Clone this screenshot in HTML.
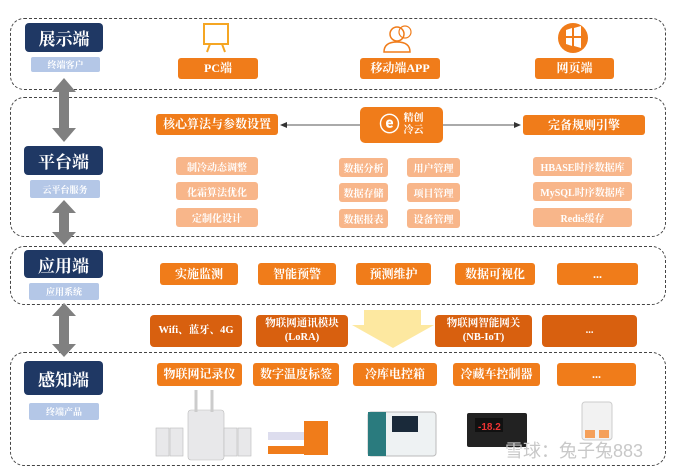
<!DOCTYPE html>
<html><head><meta charset="utf-8"><style>
*{margin:0;padding:0;box-sizing:border-box}
body{width:674px;height:470px;background:#fff;position:relative;overflow:hidden;font-family:"Liberation Serif","Noto Serif CJK SC","Noto Sans CJK SC",serif;font-weight:bold}
.a{position:absolute}
.g{position:absolute;border:1.5px dashed #444;border-radius:14px}
.n{position:absolute;background:#1f3864;color:#fff;border-radius:4px;font-size:17px;display:flex;align-items:center;justify-content:center}
.s{position:absolute;background:#b4c7e7;color:#fff;font-size:9px;display:flex;align-items:center;justify-content:center;border-radius:2px}
.o{position:absolute;background:#f07c1a;color:#fff;font-size:12px;display:flex;align-items:center;justify-content:center;border-radius:3px;text-align:center;line-height:1.2}
.l{position:absolute;background:#f8b68a;color:#fff;font-size:10px;display:flex;align-items:center;justify-content:center;border-radius:3px}
.d{position:absolute;background:#d8600f;color:#fff;font-size:10.5px;display:flex;align-items:center;justify-content:center;border-radius:4px;text-align:center;line-height:1.3}
</style></head><body>
<div class="g" style="left:10px;top:18px;width:656px;height:72px"></div>
<div class="g" style="left:10px;top:97px;width:656px;height:140px"></div>
<div class="g" style="left:10px;top:246px;width:656px;height:59px"></div>
<div class="g" style="left:10px;top:352px;width:656px;height:114px"></div>

<svg class="a" style="left:0;top:0" width="674" height="470">
<g fill="#808080">
<polygon points="64,78 76,92 69,92 69,128 76,128 64,142 52,128 59,128 59,92 52,92"/>
<polygon points="64,200 76,213 69,213 69,232 76,232 64,245 52,232 59,232 59,213 52,213"/>
<polygon points="64,303 76,316 69,316 69,344 76,344 64,357 52,344 59,344 59,316 52,316"/>
</g>
<line x1="285" y1="125" x2="360" y2="125" stroke="#555" stroke-width="1"/>
<polygon points="280,125 287,122 287,128" fill="#333"/>
<line x1="443" y1="125" x2="516" y2="125" stroke="#555" stroke-width="1"/>
<polygon points="521,125 514,122 514,128" fill="#333"/>
<polygon points="364,310 421,310 421,325 434,325 393,348 352,325 364,325" fill="#fde8a0"/>
<rect x="204" y="24" width="24" height="20" fill="none" stroke="#f5a623" stroke-width="2"/>
<line x1="210" y1="44" x2="207" y2="52" stroke="#f5a623" stroke-width="2"/><line x1="222" y1="44" x2="225" y2="52" stroke="#f5a623" stroke-width="2"/>
<circle cx="397" cy="34" r="7" fill="none" stroke="#f07c1a" stroke-width="1.5"/>
<path d="M384 52 q0-10 13-10 q13 0 13 10z" fill="none" stroke="#f07c1a" stroke-width="1.5"/>
<circle cx="405" cy="32" r="6" fill="none" stroke="#f07c1a" stroke-width="1.2"/>
<circle cx="573" cy="38" r="15" fill="#f07c1a"/>
<path d="M566 30 l6 -2 v8 h-6z M574 28 l7 -2 v10 h-7z M566 38 h6 v8 l-6 -2z M574 38 h7 v10 l-7 -2z" fill="#fff"/>
<g fill="#e8e8ea" stroke="#bbb" stroke-width="0.6">
<rect x="156" y="428" width="13" height="28"/><rect x="170" y="428" width="13" height="28"/>
<rect x="188" y="410" width="36" height="50" rx="3"/>
<rect x="224" y="428" width="13" height="28"/><rect x="238" y="428" width="13" height="28"/>
</g>
<line x1="196" y1="390" x2="196" y2="412" stroke="#ccc" stroke-width="3"/><line x1="212" y1="390" x2="212" y2="412" stroke="#ccc" stroke-width="3"/>
<rect x="268" y="432" width="36" height="8" fill="#dde"/><rect x="268" y="446" width="36" height="8" fill="#f07c1a"/>
<rect x="304" y="421" width="24" height="34" fill="#f07c1a"/>
<rect x="368" y="412" width="68" height="44" rx="3" fill="#eef2f3" stroke="#bbb"/>
<rect x="368" y="412" width="18" height="44" fill="#2a7b7e"/>
<rect x="392" y="416" width="26" height="16" fill="#1a2a3a"/>
<rect x="467" y="413" width="60" height="34" rx="2" fill="#222"/>
<rect x="475" y="418" width="28" height="14" fill="#111"/>
<text x="478" y="430" fill="#e33" font-size="10" font-family="Liberation Sans">-18.2</text>
<rect x="582" y="402" width="30" height="38" rx="3" fill="#f2f2f2" stroke="#ccc"/>
<rect x="585" y="430" width="10" height="8" fill="#f5a05a"/><rect x="599" y="430" width="10" height="8" fill="#f5a05a"/>
<text x="505" y="457" fill="#c8c8c8" font-size="18" font-family="Liberation Sans,Noto Sans CJK SC,sans-serif" font-weight="normal">雪球：兔子兔883</text>
</svg>

<div class="n" style="left:25px;top:23px;width:78px;height:29px">展示端</div>
<div class="s" style="left:31px;top:57px;width:69px;height:15px">终端客户</div>
<div class="o" style="left:178px;top:58px;width:80px;height:21px">PC端</div>
<div class="o" style="left:360px;top:58px;width:80px;height:21px">移动端APP</div>
<div class="o" style="left:535px;top:58px;width:79px;height:21px">网页端</div>

<div class="n" style="left:24px;top:146px;width:79px;height:29px">平台端</div>
<div class="s" style="left:30px;top:180px;width:70px;height:18px">云平台服务</div>
<div class="o" style="left:156px;top:114px;width:122px;height:21px">核心算法与参数设置</div>
<div class="o" style="left:360px;top:107px;width:83px;height:36px;border-radius:5px;font-size:10px"><span style="font-size:20px;margin-right:4px;font-family:Liberation Sans">ⓔ</span>精创<br>冷云</div>
<div class="o" style="left:523px;top:115px;width:122px;height:20px">完备规则引擎</div>
<div class="l" style="left:176px;top:157px;width:82px;height:18px">制冷动态调整</div>
<div class="l" style="left:176px;top:182px;width:82px;height:18px">化霜算法优化</div>
<div class="l" style="left:176px;top:208px;width:82px;height:19px">定制化设计</div>
<div class="l" style="left:339px;top:158px;width:49px;height:19px">数据分析</div>
<div class="l" style="left:339px;top:183px;width:49px;height:19px">数据存储</div>
<div class="l" style="left:339px;top:209px;width:49px;height:19px">数据报表</div>
<div class="l" style="left:407px;top:158px;width:53px;height:19px">用户管理</div>
<div class="l" style="left:407px;top:183px;width:53px;height:19px">项目管理</div>
<div class="l" style="left:407px;top:209px;width:53px;height:19px">设备管理</div>
<div class="l" style="left:533px;top:157px;width:99px;height:19px">HBASE时序数据库</div>
<div class="l" style="left:533px;top:182px;width:99px;height:19px">MySQL时序数据库</div>
<div class="l" style="left:533px;top:208px;width:99px;height:19px">Redis缓存</div>

<div class="n" style="left:24px;top:250px;width:79px;height:28px">应用端</div>
<div class="s" style="left:29px;top:283px;width:70px;height:17px">应用系统</div>
<div class="o" style="left:160px;top:263px;width:78px;height:22px">实施监测</div>
<div class="o" style="left:258px;top:263px;width:78px;height:22px">智能预警</div>
<div class="o" style="left:356px;top:263px;width:75px;height:22px">预测维护</div>
<div class="o" style="left:455px;top:263px;width:80px;height:22px">数据可视化</div>
<div class="o" style="left:557px;top:263px;width:81px;height:22px">...</div>

<div class="d" style="left:150px;top:315px;width:92px;height:32px">Wifi、蓝牙、4G</div>
<div class="d" style="left:256px;top:315px;width:92px;height:32px">物联网通讯模块<br>(LoRA)</div>
<div class="d" style="left:435px;top:315px;width:97px;height:32px">物联网智能网关<br>(NB-IoT)</div>
<div class="d" style="left:542px;top:315px;width:95px;height:32px">...</div>

<div class="n" style="left:24px;top:361px;width:79px;height:34px">感知端</div>
<div class="s" style="left:29px;top:403px;width:70px;height:17px">终端产品</div>
<div class="o" style="left:157px;top:363px;width:85px;height:23px">物联网记录仪</div>
<div class="o" style="left:253px;top:363px;width:86px;height:23px">数字温度标签</div>
<div class="o" style="left:353px;top:363px;width:84px;height:23px">冷库电控箱</div>
<div class="o" style="left:453px;top:363px;width:87px;height:23px">冷藏车控制器</div>
<div class="o" style="left:557px;top:363px;width:79px;height:23px">...</div>
</body></html>
